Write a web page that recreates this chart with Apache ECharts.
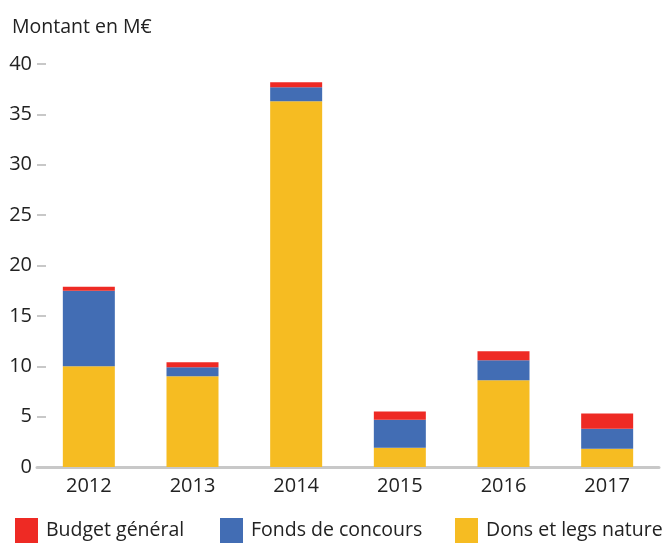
<!DOCTYPE html>
<html><head><meta charset="utf-8">
<script src="https://cdn.jsdelivr.net/npm/echarts@6/dist/echarts.min.js"></script>
<style>html,body{margin:0;padding:0;background:#fff}#c{width:664px;height:543px}</style>
</head><body><div id="c"></div>
<script>
const categories = ['2012','2013','2014','2015','2016','2017'];
const donsLegs = [10.0, 9.0, 36.3, 1.9, 8.6, 1.8];
const fondsConcours = [7.5, 0.9, 1.4, 2.8, 2.0, 2.0];
const budgetGeneral = [0.4, 0.5, 0.5, 0.8, 0.9, 1.5];
const yTicks = [0, 5, 10, 15, 20, 25, 30, 35, 40];
const legendNames = ['Budget général', 'Fonds de concours', 'Dons et legs nature'];
const legendLefts = [15, 220, 455];

const FONT = 'Open Sans';
const chart = echarts.init(document.getElementById('c'));
chart.setOption({
  animation: false,
  textStyle: {fontFamily: FONT},
  title: {text: 'Montant en M€', left: 7, top: 12, textStyle: {fontFamily: FONT, fontSize: 19.5, fontWeight: 'normal', color: '#222'}},
  grid: {left: 37, right: 5, top: 64, bottom: 76},
  legend: legendNames.map((n, i) => ({
    data: [n], left: legendLefts[i], top: 518, padding: 0,
    itemWidth: 23, itemHeight: 25, icon: 'rect',
    textStyle: {fontFamily: FONT, fontSize: 19.5, color: '#222', padding: [7,0,0,3]}
  })),
  xAxis: {
    type: 'category', data: categories,
    axisLine: {lineStyle: {color: '#c8c8c8', width: 3}},
    axisTick: {show: false},
    axisLabel: {fontFamily: FONT, fontSize: 20, color: '#222', margin: 9}
  },
  yAxis: {
    type: 'value', min: yTicks[0], max: yTicks[yTicks.length-1], interval: 5,
    axisLine: {show: false},
    axisTick: {show: true, inside: true, length: 9, lineStyle: {color: '#c8c8c8', width: 2}},
    splitLine: {show: false},
    axisLabel: {fontFamily: FONT, fontSize: 20, color: '#222', margin: 5}
  },
  series: [
    {name: 'Dons et legs nature', type: 'bar', stack: 't', data: donsLegs, barWidth: 52, itemStyle: {color: '#F6BC22'}},
    {name: 'Fonds de concours', type: 'bar', stack: 't', data: fondsConcours, itemStyle: {color: '#426DB4'}},
    {name: 'Budget général', type: 'bar', stack: 't', data: budgetGeneral, itemStyle: {color: '#EE2A24'}}
  ]
});
</script></body></html>
